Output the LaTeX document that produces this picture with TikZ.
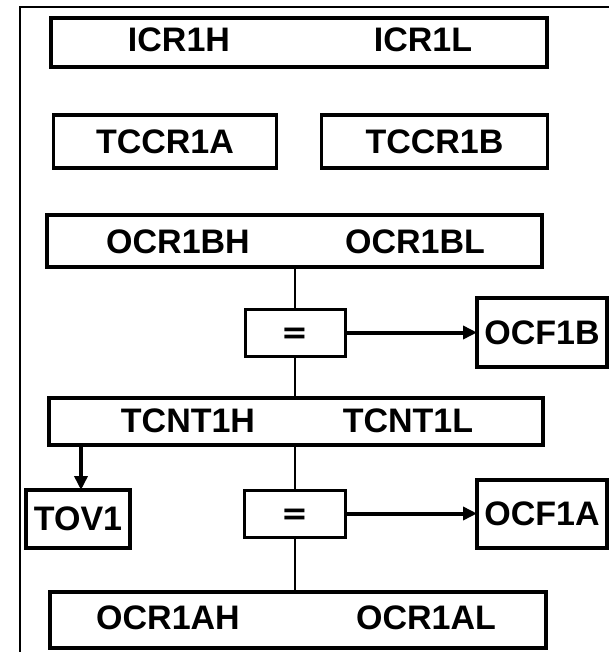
\documentclass[tikz,border=0pt]{standalone}
\usepackage{fontspec}
\setmainfont{Liberation Sans}
\newfontfamily\eqfont{DejaVu Sans}
\usetikzlibrary{arrows.meta}
\begin{document}
\begin{tikzpicture}[x=1pt,y=-1pt,
  reg/.style={draw, line width=3.6pt, inner sep=0pt, outer sep=0pt},
  lbl/.style={font=\fontsize{34}{36}\selectfont\bfseries, inner sep=0pt},
  eqs/.style={font=\eqfont\fontsize{32}{34}\selectfont\bfseries, inner sep=0pt, text height=22pt, text depth=0pt},
  wire/.style={line width=2.6pt},
  arr/.style={line width=4pt, -{Triangle[length=14pt,width=13pt]}}]
\useasboundingbox (0,0) rectangle (609,652);
\draw[line width=2.2pt] (20,652) -- (20,7) -- (609,7);
% registers
\node[reg, minimum width=496, minimum height=49] (icr) at (299,42.5) {};
\node[lbl] (icrh) at (179,40) {ICR1H};
\node[lbl] (icrl) at (423,40) {ICR1L};
\node[reg, minimum width=223, minimum height=53, lbl] (tccra) at (165,141.5) {TCCR1A};
\node[reg, minimum width=226, minimum height=53, lbl] (tccrb) at (434.5,141.5) {TCCR1B};
\node[reg, minimum width=495, minimum height=52] (ocrb) at (294.5,241) {};
\node[lbl] (ocrbh) at (178,242) {OCR1BH};
\node[lbl] (ocrbl) at (415,242) {OCR1BL};
\node[reg, line width=3pt, minimum width=100, minimum height=47, eqs] (eqb) at (295,332.5) {=};
\node[reg, minimum width=130, minimum height=69, lbl] (ocfb) at (542,332.5) {OCF1B};
\node[reg, minimum width=494, minimum height=47] (tcnt) at (296,421.5) {};
\node[lbl] (tcnth) at (188,421) {TCNT1H};
\node[lbl] (tcntl) at (408,421) {TCNT1L};
\node[reg, minimum width=104, minimum height=58, lbl] (tov) at (78,519) {TOV1};
\node[reg, line width=3pt, minimum width=101, minimum height=47, eqs] (eqa) at (295,513.5) {=};
\node[reg, minimum width=130, minimum height=68, lbl] (ocfa) at (542,514) {OCF1A};
\node[reg, minimum width=496, minimum height=56] (ocra) at (298,620) {};
\node[lbl] (ocrah) at (168,618) {OCR1AH};
\node[lbl] (ocral) at (426,618) {OCR1AL};
% connectors
\draw[wire] (eqb.north) -- (eqb.north |- ocrb.south);
\draw[wire] (eqb.south) -- (eqb.south |- tcnt.north);
\draw[wire] (eqa.north) -- (eqa.north |- tcnt.south);
\draw[wire] (eqa.south) -- (eqa.south |- ocra.north);
\draw[arr] (eqb.east) -- (eqb.east -| ocfb.west);
\draw[arr] (eqa.east) -- (eqa.east -| ocfa.west);
\draw[arr] ([xshift=3pt]tov.north |- tcnt.south) -- ([xshift=3pt]tov.north);
\end{tikzpicture}
\end{document}
